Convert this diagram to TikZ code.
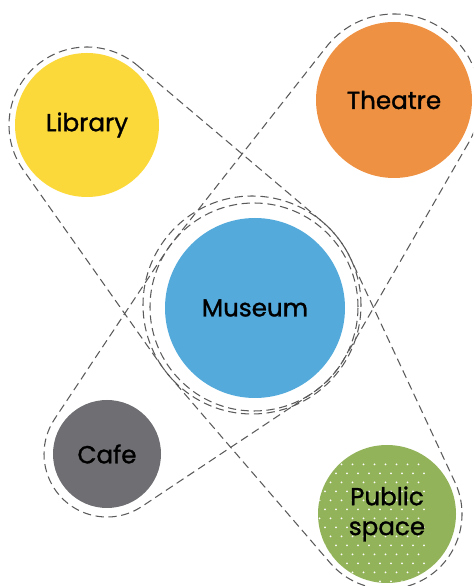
\documentclass[tikz,border=0pt]{standalone}
\usepackage{fontspec}
\setmainfont{Poppins}[UprightFeatures={FakeBold=1.2}]
\usetikzlibrary{calc}

\definecolor{libyellow}{HTML}{FCD93B}
\definecolor{theatreorange}{HTML}{EF9142}
\definecolor{museumblue}{HTML}{53AADB}
\definecolor{cafegray}{HTML}{6E6E73}
\definecolor{publicgreen}{HTML}{93B35A}
\definecolor{hullgray}{HTML}{5A5A5A}

\tikzset{
    place/.style={shape=circle, minimum size=#1, inner sep=0pt, align=center,
        font=\fontsize{21}{25.5}\selectfont},
    hull/.style={draw=hullgray, line width=0.9pt, dash pattern=on 7pt off 4pt},
}

% dashed outline round three circles: node, radius, node, radius, node, radius
\newcommand{\hull}[6]{
    \draw[hull] let \p1 = ($(#3.center)-(#1.center)$), \p2 = ($(#5.center)-(#3.center)$),
        \n1 = {atan2(\y1,\x1)}, \n2 = {acos((#2-#4)/veclen(\x1,\y1))},
        \n3 = {atan2(\y2,\x2)}, \n4 = {acos((#4-#6)/veclen(\x2,\y2))} in
        ($(#1.center)+(\n1+\n2:#2)$) -- ($(#3.center)+(\n1+\n2:#4)$)
        arc[start angle=\n1+\n2, end angle=\n3+\n4, radius=#4]
        -- ($(#5.center)+(\n3+\n4:#6)$)
        arc[start angle=\n3+\n4, end angle=\n3-\n4, radius=#6]
        -- ($(#3.center)+(\n3-\n4:#4)$)
        arc[start angle=\n3-\n4, end angle=\n1-\n2, radius=#4]
        -- ($(#1.center)+(\n1-\n2:#2)$)
        arc[start angle=\n1-\n2, end angle=\n1+\n2-360, radius=#2] -- cycle;
}

\begin{document}
\begin{tikzpicture}
    \path[use as bounding box, clip] (0, 0) rectangle (14.19, 17.58);

    \node (library) at (2.61, 13.83) [place=4.32cm, fill=libyellow] {Library};
    \node (theatre) at (11.82, 14.58) [place=4.68cm, fill=theatreorange] {Theatre};
    \node (museum) at (7.65, 8.34) [place=5.4cm, fill=museumblue] {Museum};
    \node (cafe) at (3.21, 3.96) [place=3.24cm, fill=cafegray] {Cafe};
    \node (public) at (11.61, 2.16) [place=4.14cm, fill=publicgreen,
        path picture={
            \foreach \row in {0,...,16}
                \foreach \col in {0,...,13}
                    \fill[white, shift={(path picture bounding box.center)}]
                        ({\col*0.33-2.2+mod(\row,2)*0.165}, {\row*0.27-2.2}) circle[radius=0.03cm];
        }] {Public\\space};

    \coordinate (ringa) at ($(museum.center)+(-0.09, 0.09)$);
    \coordinate (ringb) at ($(museum.center)+(-0.03, 0.03)$);
    \draw[hull] (ringa) circle[radius=3.27cm];
    \draw[hull] (ringb) circle[radius=3.12cm];

    \hull{library}{2.34cm}{ringa}{3.27cm}{public}{2.25cm}
    \hull{theatre}{2.58cm}{ringb}{3.12cm}{cafe}{1.89cm}
\end{tikzpicture}
\end{document}
